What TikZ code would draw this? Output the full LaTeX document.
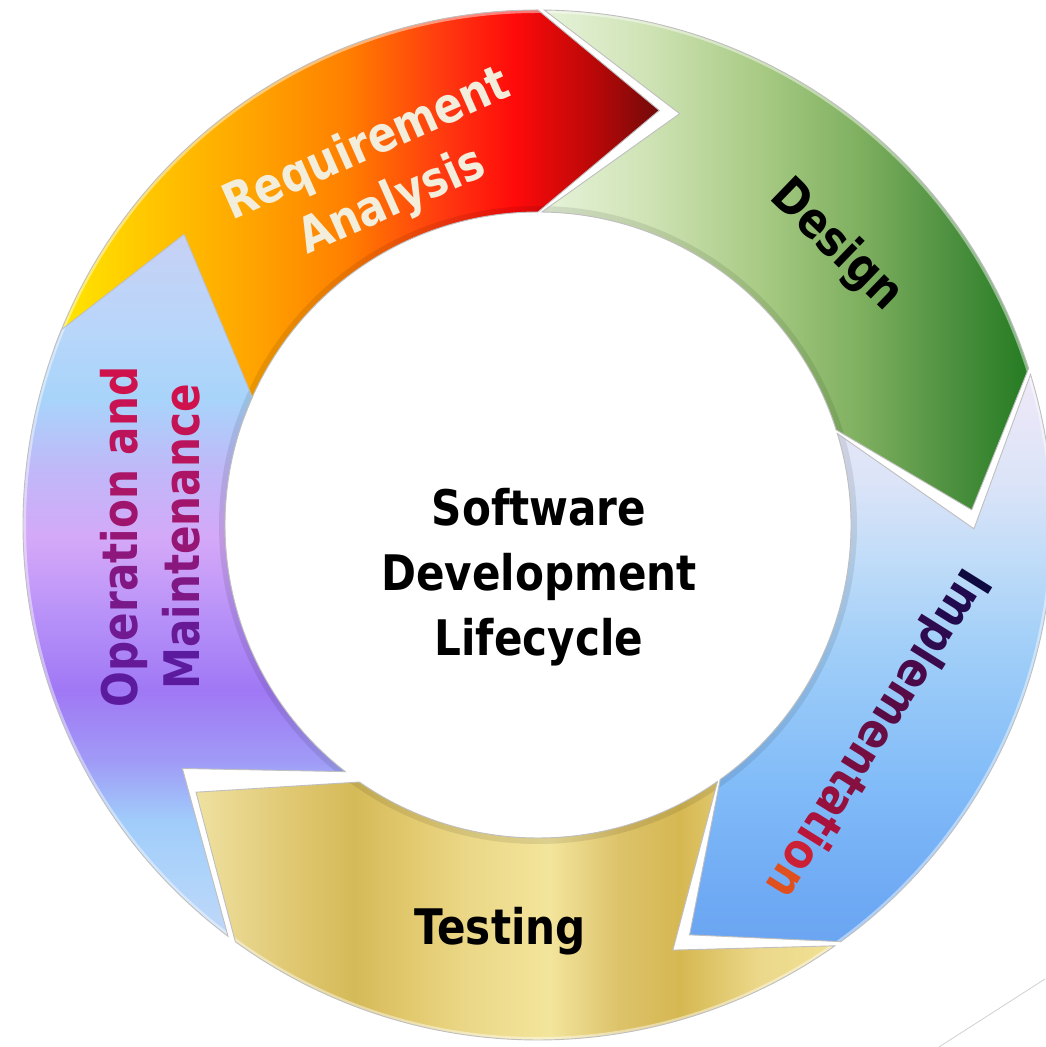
\documentclass[tikz,border=0pt]{standalone}
\usepackage{fontspec}
\newfontfamily\tah{DejaVu Sans}[FakeStretch=0.86]
% red / orange
\definecolor{ra0}{HTML}{FFE600}\definecolor{ra1}{HTML}{FFC400}\definecolor{ra2}{HTML}{FFA500}
\definecolor{ra3}{HTML}{FF8000}\definecolor{ra4}{HTML}{FF3510}\definecolor{ra5}{HTML}{FF0A0A}
\definecolor{ra6}{HTML}{B80808}\definecolor{ra7}{HTML}{700A0A}
\pgfdeclarehorizontalshading{shred}{100bp}{color(0bp)=(ra0); color(25bp)=(ra0); color(32.9bp)=(ra1); color(40.8bp)=(ra2); color(48.8bp)=(ra3); color(57.5bp)=(ra4); color(62.9bp)=(ra5); color(69.6bp)=(ra6); color(75bp)=(ra7); color(100bp)=(ra7)}
% green
\definecolor{gr0}{HTML}{E8F4DC}\definecolor{gr1}{HTML}{CFE3B5}\definecolor{gr2}{HTML}{A9CB85}
\definecolor{gr3}{HTML}{7FB060}\definecolor{gr4}{HTML}{4E9140}\definecolor{gr5}{HTML}{1F781E}
\pgfdeclarehorizontalshading{shgreen}{100bp}{color(0bp)=(gr0); color(25bp)=(gr0); color(36bp)=(gr1); color(47bp)=(gr2); color(57bp)=(gr3); color(66bp)=(gr4); color(75bp)=(gr5); color(100bp)=(gr5)}
% blue
\definecolor{bl0}{HTML}{6AA4F0}\definecolor{bl1}{HTML}{6EA9F4}\definecolor{bl2}{HTML}{82BCF8}
\definecolor{bl3}{HTML}{A0CEF8}\definecolor{bl4}{HTML}{C0DCF8}\definecolor{bl5}{HTML}{DCE4F8}
\definecolor{bl6}{HTML}{EEE8F8}
\pgfdeclareverticalshading{shblue}{100bp}{color(0bp)=(bl0); color(25bp)=(bl0); color(30.2bp)=(bl1); color(40.5bp)=(bl2); color(51.7bp)=(bl3); color(59.5bp)=(bl4); color(66.4bp)=(bl5); color(75bp)=(bl6); color(100bp)=(bl6)}
% gold
\definecolor{go0}{HTML}{EFE1A2}\definecolor{go1}{HTML}{E0C872}\definecolor{go2}{HTML}{D5BA58}
\definecolor{go3}{HTML}{E2C96E}\definecolor{go4}{HTML}{EBD888}\definecolor{go5}{HTML}{F3E59C}
\definecolor{go6}{HTML}{DCC26A}\definecolor{go7}{HTML}{D6B852}\definecolor{go8}{HTML}{ECD88A}
\definecolor{go9}{HTML}{F1E396}
\pgfdeclarehorizontalshading{shgold}{100bp}{color(0bp)=(go0); color(25bp)=(go0); color(32.3bp)=(go1); color(37.2bp)=(go2); color(41.4bp)=(go3); color(46bp)=(go4); color(52.1bp)=(go5); color(57.4bp)=(go6); color(62bp)=(go7); color(68.1bp)=(go8); color(75bp)=(go9); color(100bp)=(go9)}
% purple
\definecolor{pu0}{HTML}{C4D8F8}\definecolor{pu1}{HTML}{B0D4FA}\definecolor{pu2}{HTML}{A0CCFA}
\definecolor{pu3}{HTML}{A09AF6}\definecolor{pu4}{HTML}{A078F5}\definecolor{pu5}{HTML}{B690F8}
\definecolor{pu6}{HTML}{D4A8F8}\definecolor{pu7}{HTML}{C0B8F8}\definecolor{pu8}{HTML}{A8D4FA}
\definecolor{pu9}{HTML}{B8D6FA}\definecolor{puA}{HTML}{C8D0F4}
\pgfdeclareverticalshading{shpurple}{100bp}{color(0bp)=(pu0); color(25bp)=(pu0); color(29.8bp)=(pu1); color(33.9bp)=(pu2); color(38bp)=(pu3); color(42.8bp)=(pu4); color(47.6bp)=(pu5); color(53.1bp)=(pu6); color(57.9bp)=(pu7); color(62.7bp)=(pu8); color(67.5bp)=(pu9); color(75bp)=(puA); color(100bp)=(puA)}
% text colours
\definecolor{cream}{HTML}{F3EDDC}
\definecolor{opA}{HTML}{5C1A9E}
\definecolor{opB}{HTML}{D0124C}
\newcommand{\opc}[2]{\textcolor{opB!#1!opA}{#2}}
\newcommand{\hc}[2]{\textcolor[HTML]{#1}{#2}}
\tikzset{
  segline/.style={draw=black!25, line width=0.9pt},
  lbl/.style={font=\tah\bfseries\fontsize{49}{62}\selectfont, align=center, inner sep=0pt},
  ttl/.style={font=\tah\bfseries\fontsize{49}{65}\selectfont, align=center, inner sep=0pt, text=black}
}
\newcommand{\bevel}{%
  \draw[black, opacity=0.09, line width=12pt] (0,0) circle[radius=313];
  \draw[white, opacity=0.45, line width=6pt] (0,0) circle[radius=515];}
\begin{document}
\begin{tikzpicture}[x=1pt,y=1pt]
\useasboundingbox (0,0) rectangle (1045,1047);
\fill[white] (0,0) rectangle (1045,1047);
\begin{scope}[shift={(538,522)}]
\def\pRed{(160:515) arc[start angle=160,end angle=90,radius=515] -- (73.7:432) -- (90:313) arc[start angle=90,end angle=160,radius=313] -- cycle}
\def\pGreen{(89.3:515) arc[start angle=89.3,end angle=17.7,radius=515] -- (2:434) -- (17.7:313) arc[start angle=17.7,end angle=89.3,radius=313] -- (71:435) -- cycle}
\def\pBlue{(17:515) arc[start angle=17,end angle=-54,radius=515] -- (-69.7:437) -- (-54.4:313) arc[start angle=-54.4,end angle=17,radius=313] -- (-0.5:436) -- cycle}
\def\pGold{(-54.8:515) arc[start angle=-54.8,end angle=-126,radius=515] -- (-142:434) -- (-124.8:313) arc[start angle=-124.8,end angle=-55,radius=313] -- (-72.4:446) -- cycle}
\def\pPurple{(233:515) arc[start angle=233,end angle=157.7,radius=515] -- (140.6:458) -- (155.9:313) arc[start angle=155.9,end angle=232,radius=313] -- (214.4:431) -- cycle}
% requirement analysis
\begin{scope}\clip \pRed; \shade[shading=shred] (-478,-20) rectangle (122,530); \bevel \end{scope}
\draw[segline] \pRed;
% design
\begin{scope}\clip \pGreen; \shade[shading=shgreen] (-2,-100) rectangle (502,530); \bevel \end{scope}
\draw[segline] \pGreen;
% implementation
\begin{scope}\clip \pBlue; \shade[shading=shblue] (-100,-435) rectangle (560,145); \bevel \end{scope}
\draw[segline] \pBlue;
% testing
\begin{scope}\clip \pGold; \shade[shading=shgold] (-343,-530) rectangle (312,-150); \bevel \end{scope}
\draw[segline] \pGold;
% operation and maintenance
\begin{scope}\clip \pPurple; \shade[shading=shpurple] (-540,-425) rectangle (-100,305); \bevel \end{scope}
\draw[segline] \pPurple;
\end{scope}
% labels
\node[ttl] (sdlc) at (539,470) {Software\\Development\\Lifecycle};
\node[lbl, text=cream, rotate=24] (req) at (380,873) {Requirement\\Analysis};
\node[lbl, text=black, rotate=-44] (des) at (836,801) {Design};
\node[lbl, rotate=-122] (imp) at (876,314) {\hc{0E0A40}{I}\hc{220A4E}{m}\hc{2E0A4E}{p}\hc{3A0A4C}{l}\hc{4A0A4A}{e}\hc{580C46}{m}\hc{680E44}{e}\hc{760E42}{n}\hc{861040}{t}\hc{96103E}{a}\hc{A8123C}{t}\hc{BA163A}{i}\hc{CC2034}{o}\hc{E0501E}{n}};
\node[lbl, text=black, anchor=base] (tst) at (500,102) {Testing};
\node[lbl, rotate=90] (om) at (150,510) {\opc{0}{O}\opc{8}{p}\opc{17}{e}\opc{25}{r}\opc{33}{a}\opc{42}{t}\opc{50}{i}\opc{58}{o}\opc{67}{n} \opc{83}{a}\opc{92}{n}\opc{100}{d}\\\opc{0}{M}\opc{10}{a}\opc{20}{i}\opc{30}{n}\opc{40}{t}\opc{50}{e}\opc{60}{n}\opc{70}{a}\opc{80}{n}\opc{90}{c}\opc{100}{e}};
% faint line at the lower right
\coordinate (fl1) at (1045,68);
\coordinate (fl2) at (939,0);
\draw[black!18, line width=0.8pt] (fl1) -- (fl2);
\end{tikzpicture}
\end{document}
